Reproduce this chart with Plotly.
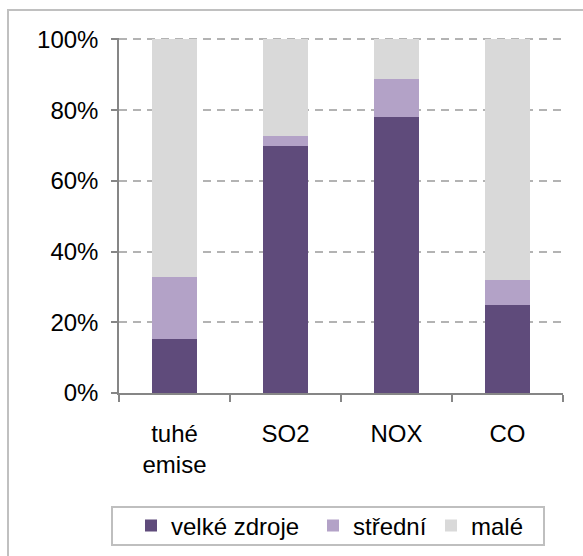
import plotly.graph_objects as go

categories = ["tuhé<br>emise", "SO2", "NOX", "CO"]
series_names = ["velké zdroje", "střední", "malé"]
velke = [15.2, 69.9, 78.1, 24.8]
stredni = [17.5, 2.8, 10.8, 7.3]
male = [67.3, 27.3, 11.1, 67.9]
colors = ["#5f4b7b", "#b3a2c7", "#d9d9d9"]
y_ticks = [0, 20, 40, 60, 80, 100]

W, H = 583, 556
L, R, T, B = 119, 20, 38, 163
pw, ph = W - L - R, H - T - B

def px_x(x):
    return (x - L) / pw

def px_y(y):
    return (H - B - y) / ph

legend_ids = ["legend", "legend2", "legend3"]
legend_starts = [131, 313, 431]

fig = go.Figure()
for name, vals, col, lid in zip(series_names, [velke, stredni, male], colors, legend_ids):
    fig.add_trace(go.Bar(
        x=categories, y=vals, name=name,
        marker=dict(color=col, line=dict(width=0)),
        width=0.4, legend=lid,
    ))

font = "Liberation Sans, Arial, sans-serif"
legend_common = dict(
    orientation="h", xanchor="left", yanchor="middle",
    y=px_y(526), borderwidth=0, bgcolor="rgba(0,0,0,0)",
    font=dict(family=font, size=24, color="#000000"),
    itemclick=False, itemdoubleclick=False,
)

fig.update_layout(
    width=W, height=H,
    margin=dict(l=L, r=R, t=T, b=B, autoexpand=False),
    barmode="stack",
    plot_bgcolor="white", paper_bgcolor="white",
    font=dict(family=font, size=24, color="#000000"),
    showlegend=True,
    legend=dict(x=px_x(legend_starts[0]), **legend_common),
    legend2=dict(x=px_x(legend_starts[1]), **legend_common),
    legend3=dict(x=px_x(legend_starts[2]), **legend_common),
    yaxis=dict(
        range=[0, 100.4],
        tickvals=y_ticks,
        ticktext=[f"{v}%" for v in y_ticks],
        showline=True, linecolor="#868686", linewidth=1.5,
        ticks="outside", ticklen=6, tickcolor="#868686", tickwidth=1.5,
        showgrid=True, gridcolor="#b3b3b3", gridwidth=1.5, griddash="8px,6px",
        zeroline=False,
        ticklabelstandoff=8,
        tickfont=dict(size=24),
    ),
    xaxis=dict(
        showline=True, linecolor="#868686", linewidth=2,
        ticks="outside", ticklen=7, tickcolor="#868686", tickwidth=1.5,
        tickson="boundaries",
        showgrid=False,
        ticklabelstandoff=18,
        tickfont=dict(size=24),
    ),
    shapes=[
        dict(
            type="rect", xref="paper", yref="paper",
            x0=px_x(8), x1=px_x(620), y0=px_y(600), y1=px_y(10),
            line=dict(color="#c0c0c0", width=2), fillcolor="rgba(0,0,0,0)",
            layer="below",
        ),
        dict(
            type="rect", xref="paper", yref="paper",
            x0=px_x(112), x1=px_x(544), y0=px_y(545), y1=px_y(507),
            line=dict(color="#bfbfbf", width=2), fillcolor="rgba(0,0,0,0)",
            layer="below",
        ),
    ],
)

fig.write_html(
    "out.html",
    config={"displayModeBar": False},
    post_script="document.body.style.margin='0px';document.body.style.overflow='hidden';",
)
